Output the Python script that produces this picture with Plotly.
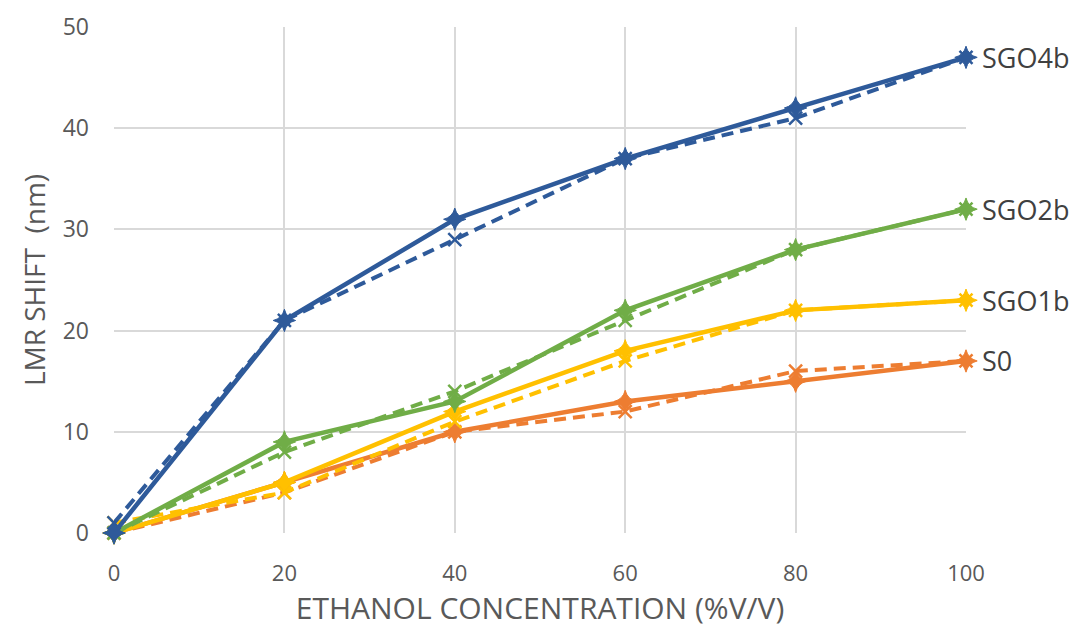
import plotly.graph_objects as go

x = [0, 20, 40, 60, 80, 100]
names = ["S0", "SGO1b", "SGO2b", "SGO4b"]
solid = {
    "S0":    [0, 5, 10, 13, 15, 17],
    "SGO1b": [0, 5, 12, 18, 22, 23],
    "SGO2b": [0, 9, 13, 22, 28, 32],
    "SGO4b": [0, 21, 31, 37, 42, 47],
}
dashed = {
    "S0":    [0, 4, 10, 12, 16, 17],
    "SGO1b": [1, 4, 11, 17, 22, 23],
    "SGO2b": [0, 8, 14, 21, 28, 32],
    "SGO4b": [1, 21, 29, 37, 41, 47],
}
colors = {"S0": "#ED7D31", "SGO1b": "#FFC000", "SGO2b": "#70AD47", "SGO4b": "#2E5A9A"}

fig = go.Figure()
for n in names:
    c = colors[n]
    fig.add_trace(go.Scatter(x=x, y=dashed[n], mode="lines+markers", name=n + " (dashed)",
                             line=dict(color=c, width=4, dash="12px,7px"),
                             marker=dict(symbol="x-thin", size=13, color=c,
                                         line=dict(color=c, width=2.5)),
                             showlegend=False, cliponaxis=False))
    fig.add_trace(go.Scatter(x=x, y=solid[n], mode="lines+markers", name=n,
                             line=dict(color=c, width=4.5),
                             marker=dict(symbol="star-diamond", size=16, color=c,
                                         line=dict(color=c, width=1)),
                             showlegend=False, cliponaxis=False))
    fig.add_annotation(x=x[-1], y=solid[n][-1], xref="x", yref="y", text=n, showarrow=False,
                       xanchor="left", xshift=14, font=dict(size=27, color="#404040"))

fig.update_layout(
    width=1074, height=628,
    margin=dict(l=114, r=108, t=27, b=95, autoexpand=False),
    paper_bgcolor="white", plot_bgcolor="white",
    font=dict(family="Open Sans, sans-serif", color="#595959"),
    xaxis=dict(range=[0, 100], tickvals=x, showgrid=True, gridcolor="#D9D9D9", gridwidth=2,
               zeroline=False, showline=False, tickfont=dict(size=22, color="#595959"),
               ticks="", ticklabelstandoff=25, automargin=False,
               title=dict(text="ETHANOL CONCENTRATION (%V/V)", font=dict(size=30, color="#595959"),
                          standoff=6)),
    yaxis=dict(range=[0, 50], tickvals=[0, 10, 20, 30, 40, 50], showgrid=True,
               gridcolor="#D9D9D9", gridwidth=2, zeroline=False, showline=False,
               tickfont=dict(size=23, color="#595959"), ticks="", ticklabelstandoff=24,
               automargin=False,
               title=dict(text="LMR SHIFT  (nm)", font=dict(size=28, color="#595959"),
                          standoff=8)),
)
fig.write_html("out.html")
